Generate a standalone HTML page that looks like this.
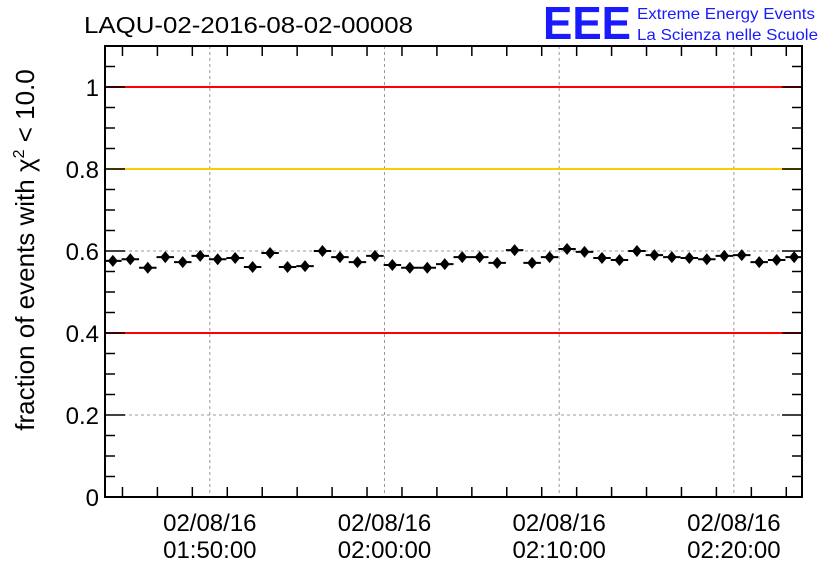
<!DOCTYPE html>
<html><head><meta charset="utf-8"><style>
body{margin:0;background:#fff;}
svg text{font-family:"Liberation Sans",sans-serif;}
</style></head><body>
<svg id="c" width="836" height="572" xmlns="http://www.w3.org/2000/svg">
<text x="84" y="33" font-size="23" textLength="329" lengthAdjust="spacingAndGlyphs">LAQU-02-2016-08-02-00008</text>
<g>
<text x="543" y="39" font-size="46" font-weight="bold" fill="#1a1aff" textLength="88" lengthAdjust="spacingAndGlyphs">EEE</text>
<text x="637" y="19" font-size="16" fill="#1a1aff" textLength="178" lengthAdjust="spacingAndGlyphs">Extreme Energy Events</text>
<text x="637" y="40" font-size="16" fill="#1a1aff" textLength="181" lengthAdjust="spacingAndGlyphs">La Scienza nelle Scuole</text>
</g>
<g id="plot"></g>
<text transform="translate(34,250) rotate(-90)" text-anchor="middle" font-size="26">fraction of events with χ<tspan dy="-10" font-size="16">2</tspan><tspan dy="10"> &lt; 10.0</tspan></text>
</svg>
<script>
const values=[.576,.580,.559,.585,.573,.588,.580,.583,.561,.595,.561,.563,.600,.585,.573,.588,.566,.559,.559,.568,.585,.585,.571,.602,.571,.585,.605,.598,.583,.578,.600,.590,.585,.583,.580,.588,.590,.573,.578,.585];
const errors=values.map(()=>0.011);
const startSec=4*60+27; // first point (seconds after 01:40:00)
const yTicks=[0,0.2,0.4,0.6,0.8,1];
const yTickLabels=["0","0.2","0.4","0.6","0.8","1"];
const xTickSec=[600,1200,1800,2400];
const xTickLabels=["01:50:00","02:00:00","02:10:00","02:20:00"];
const refLines=[{v:1,c:"#ff0000"},{v:0.8,c:"#ffcc00"},{v:0.4,c:"#ff0000"}];
const L=105,R=802,T=46,B=497;
const yMin=0,yMax=1.1,xMin=240,xMax=2634;
const X=s=>L+(s-xMin)/(xMax-xMin)*(R-L);
const Y=v=>B-(v-yMin)/(yMax-yMin)*(B-T);
const g=document.getElementById('plot');const NS="http://www.w3.org/2000/svg";
function el(t,a,p){const e=document.createElementNS(NS,t);for(const k in a)e.setAttribute(k,a[k]);(p||g).appendChild(e);return e;}
xTickSec.forEach(s=>{const e=el('line',{x1:X(s),x2:X(s),y1:T,y2:B,stroke:'#999','stroke-dasharray':'3,3','stroke-width':1});

});
yTicks.forEach(v=>{if(v===0)return;const e=el('line',{x1:L,x2:R,y1:Y(v),y2:Y(v),stroke:'#999','stroke-dasharray':'3,3','stroke-width':1});

});
refLines.forEach(r=>{const e=el('line',{x1:L,x2:R,y1:Y(r.v),y2:Y(r.v),stroke:r.c,'stroke-width':2});

});
const f=el('rect',{x:L,y:T,width:R-L,height:B-T,fill:'none',stroke:'#000','stroke-width':2});


for(let v=0;v<=1.1001;v+=0.05){const maj=Math.abs(v/0.2-Math.round(v/0.2))<1e-6;const len=maj?20:10;
el('line',{x1:L,x2:L+len,y1:Y(v),y2:Y(v),stroke:'#000','stroke-width':1.5});
el('line',{x1:R,x2:R-len,y1:Y(v),y2:Y(v),stroke:'#000','stroke-width':1.5});}
yTicks.forEach((v,i)=>{const t=el('text',{x:99,y:Y(v)+9,'text-anchor':'end','font-size':24});t.textContent=yTickLabels[i];

});
for(let s=300;s<xMax;s+=120){const maj=s%600===0;const len=maj?20:10;
el('line',{x1:X(s),x2:X(s),y1:B,y2:B-len,stroke:'#000','stroke-width':1.5});
el('line',{x1:X(s),x2:X(s),y1:T,y2:T+len,stroke:'#000','stroke-width':1.5});}
xTickSec.forEach((s,i)=>{const t=el('text',{x:X(s),y:531,'text-anchor':'middle','font-size':24});t.textContent='02/08/16';


const t2=el('text',{x:X(s),y:558,'text-anchor':'middle','font-size':24});t2.textContent=xTickLabels[i];

});
values.forEach((v,i)=>{const s=startSec+i*60;const cx=X(s),cy=Y(v);
const pg=el('g',{});


el('line',{x1:X(s-30),x2:X(s+30),y1:cy,y2:cy,stroke:'#000','stroke-width':2},pg);
el('line',{x1:cx,x2:cx,y1:Y(v+errors[i]),y2:Y(v-errors[i]),stroke:'#000','stroke-width':2},pg);
el('polygon',{points:`${cx},${cy-6} ${cx+5},${cy} ${cx},${cy+6} ${cx-5},${cy}`,fill:'#000'},pg);});
</script>
</body></html>
